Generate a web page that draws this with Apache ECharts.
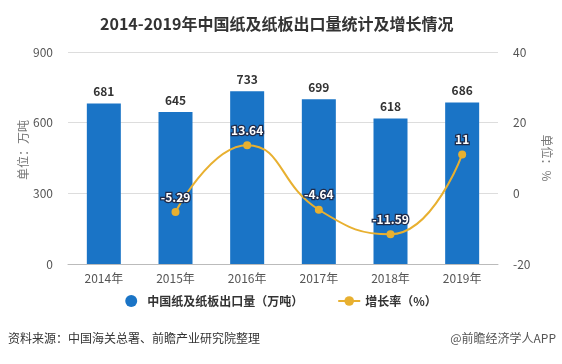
<!DOCTYPE html>
<html><head><meta charset="utf-8">
<script src="https://cdn.jsdelivr.net/npm/echarts@6/dist/echarts.min.js"></script>
<style>html,body{margin:0;padding:0;background:#fff}#c{width:562px;height:364px}</style>
</head><body><div id="c"></div>
<script>
const categories = ['2014年','2015年','2016年','2017年','2018年','2019年'];
const exportVolume = [681, 645, 733, 699, 618, 686];
const growthRate = [null, -5.29, 13.64, -4.64, -11.59, 11];
const leftTicks = {min: 0, max: 900, interval: 300};
const rightTicks = {min: -20, max: 40, interval: 20};

const chart = echarts.init(document.getElementById('c'));
const FONT = '"Microsoft YaHei","Noto Sans CJK SC",sans-serif';
chart.setOption({
  backgroundColor: '#fff',
  textStyle: {fontFamily: FONT},
  title: {
    text: '2014-2019年中国纸及纸板出口量统计及增长情况',
    left: 95, top: 11,
    textStyle: {fontSize: 16, fontWeight: 'bold', color: '#333', fontFamily: FONT}
  },
  grid: {left: 68, right: 64, top: 52, bottom: 100},
  legend: {
    bottom: 52, left: 'center', itemGap: 34, itemWidth: 22, itemHeight: 12,
    textStyle: {fontSize: 12, color: '#333', fontWeight: 'bold'},
    data: [
      {name: '中国纸及纸板出口量（万吨）', icon: 'circle'},
      {name: '增长率（%）'}
    ]
  },
  xAxis: {
    type: 'category', data: categories,
    axisLine: {lineStyle: {color: '#bbb'}},
    axisTick: {alignWithLabel: true, lineStyle: {color: '#bbb'}},
    axisLabel: {color: '#555', fontSize: 12, margin: 8}
  },
  yAxis: [{
    type: 'value', min: leftTicks.min, max: leftTicks.max, interval: leftTicks.interval,
    name: '单位：万吨', nameLocation: 'middle', nameGap: 39, nameMoveOverlap: false,
    nameTextStyle: {color: '#777', fontSize: 12, padding: [0, 0, 0, 16]},
    axisLine: {show: false}, axisTick: {show: false},
    axisLabel: {color: '#555', fontSize: 12, margin: 15},
    splitLine: {lineStyle: {color: '#ddd'}}
  }, {
    type: 'value', min: rightTicks.min, max: rightTicks.max, interval: rightTicks.interval,
    name: '单位：%', nameLocation: 'middle', nameGap: 43, nameRotate: -90, nameMoveOverlap: false,
    nameTextStyle: {color: '#777', fontSize: 12},
    axisLine: {show: false}, axisTick: {show: false},
    axisLabel: {color: '#555', fontSize: 12, margin: 15},
    splitLine: {show: false}
  }],
  series: [{
    name: '中国纸及纸板出口量（万吨）', type: 'bar', data: exportVolume, barWidth: 34,
    itemStyle: {color: '#1a74c6'},
    label: {show: true, position: 'top', distance: 6, color: '#333', fontWeight: 'bold', fontSize: 12}
  }, {
    name: '增长率（%）', type: 'line', yAxisIndex: 1, data: growthRate, smooth: 0.5,
    symbol: 'circle', symbolSize: 8, connectNulls: false,
    itemStyle: {color: '#e8b030'}, lineStyle: {color: '#e8b030', width: 2},
    label: {show: true, position: 'top', distance: 5, color: '#fff', fontWeight: 'bold', fontSize: 12,
      textBorderColor: '#1f2b4a', textBorderWidth: 2.5}
  }],
  graphic: [{
    type: 'text', left: 8, top: 332,
    style: {text: '资料来源：中国海关总署、前瞻产业研究院整理', fill: '#333', font: '12px ' + FONT}
  }, {
    type: 'text', right: 6, top: 332,
    style: {text: '@前瞻经济学人APP', fill: '#555', font: '12px ' + FONT}
  }]
});
</script></body></html>
